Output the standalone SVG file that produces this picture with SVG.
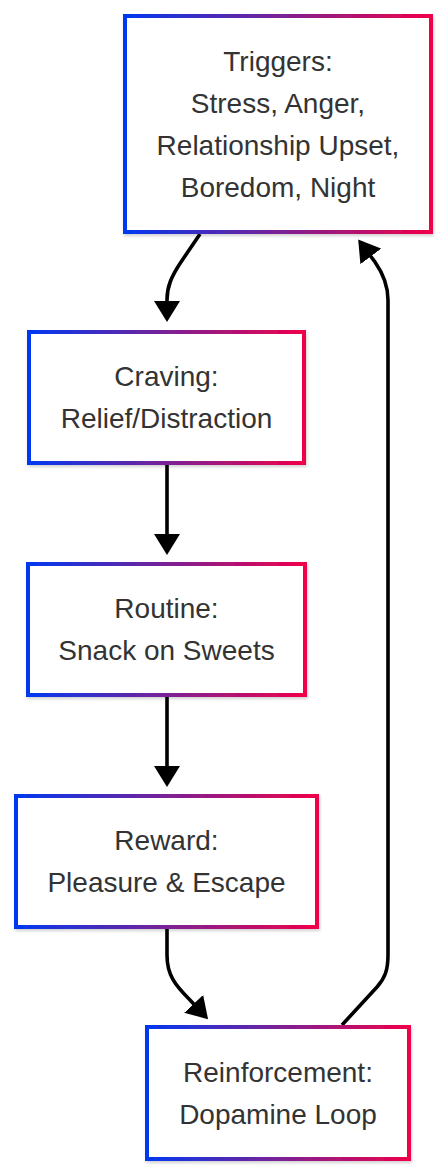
<svg xmlns="http://www.w3.org/2000/svg" width="447" height="1176" viewBox="0 0 447 1176">
<defs>
<linearGradient id="g" x1="0" y1="0" x2="1" y2="0">
<stop offset="0" stop-color="#0038f0"/>
<stop offset="0.5" stop-color="#7a2296"/>
<stop offset="1" stop-color="#f0004a"/>
</linearGradient>
<filter id="sh" x="-10%" y="-10%" width="120%" height="120%">
<feDropShadow dx="1" dy="2" stdDeviation="1.5" flood-color="#000" flood-opacity="0.18"/>
</filter>
<marker id="arr" viewBox="0 0 21 26" refX="18" refY="13" markerWidth="21" markerHeight="26" markerUnits="userSpaceOnUse" orient="auto">
<path d="M0,0 L21,13 L0,26 z" fill="#000"/>
</marker>
<style>
.box{fill:#fff;stroke:url(#g);stroke-width:4;filter:url(#sh)}
.lbl{font-family:"Liberation Sans",Arial,sans-serif;font-size:28px;fill:#333;text-anchor:middle}
.edge{fill:none;stroke:#000;stroke-width:3.6;marker-end:url(#arr)}
</style>
</defs>
<rect width="447" height="1176" fill="#fff"/>
<g id="connectors">
<path class="edge" d="M200,234 L181,262 C171,277 167,287 167,300 L167,319"/>
<path class="edge" d="M167,465 L167,552"/>
<path class="edge" d="M167,697 L167,784"/>
<path class="edge" d="M167,929 L167,955 C167,975 175,985 190,1000 L206,1017"/>
<path class="edge" d="M342,1025 L377,987 C385,978 388,970 388,955 L388,300 C388,285 382,272 375,262 L360,242"/>
</g>
<g id="triggers">
<rect class="box" x="125" y="16" width="306" height="216"/>
<text class="lbl" x="278" y="71">Triggers:</text>
<text class="lbl" x="278" y="113">Stress, Anger,</text>
<text class="lbl" x="278" y="155">Relationship Upset,</text>
<text class="lbl" x="278" y="197">Boredom, Night</text>
</g>
<g id="craving">
<rect class="box" x="29" y="332" width="275" height="131"/>
<text class="lbl" x="166.5" y="386">Craving:</text>
<text class="lbl" x="166.5" y="428">Relief/Distraction</text>
</g>
<g id="routine">
<rect class="box" x="28" y="564" width="277" height="131"/>
<text class="lbl" x="166.5" y="618">Routine:</text>
<text class="lbl" x="166.5" y="660">Snack on Sweets</text>
</g>
<g id="reward">
<rect class="box" x="16" y="796" width="301" height="131"/>
<text class="lbl" x="166.5" y="850">Reward:</text>
<text class="lbl" x="166.5" y="892">Pleasure &amp; Escape</text>
</g>
<g id="reinforcement">
<rect class="box" x="147" y="1027" width="262" height="132"/>
<text class="lbl" x="278" y="1082">Reinforcement:</text>
<text class="lbl" x="278" y="1124">Dopamine Loop</text>
</g>
</svg>
